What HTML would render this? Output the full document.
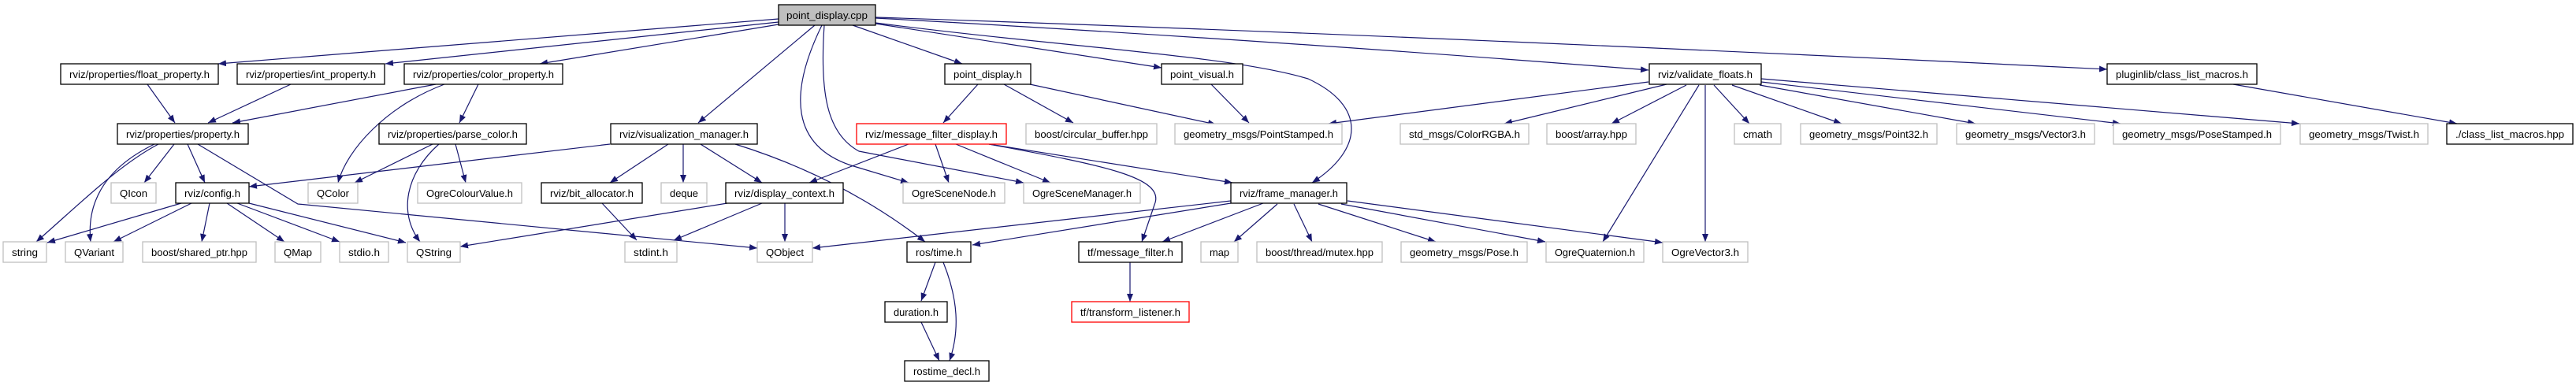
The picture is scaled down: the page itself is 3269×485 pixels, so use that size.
<!DOCTYPE html>
<html><head><meta charset="utf-8"><style>
html,body{margin:0;padding:0;background:#fff;}
svg{display:block;}
text{font-family:"Liberation Sans",sans-serif;font-size:13px;fill:#000;}
.b{fill:#fff;stroke:#000;stroke-width:1.3;}
.g{fill:#fff;stroke:#bfbfbf;stroke-width:1.3;}
.r{fill:#fff;stroke:#ff0000;stroke-width:1.3;}
.e{fill:none;stroke:#191970;stroke-width:1.2;marker-end:url(#a);}
</style></head><body>
<svg width="3269" height="485" viewBox="0 0 3269 485" xmlns="http://www.w3.org/2000/svg">
<defs><marker id="a" markerUnits="userSpaceOnUse" markerWidth="12" markerHeight="10" refX="10" refY="4" orient="auto"><path d="M0,0 L10,4 L0,8 z" fill="#191970"/></marker></defs>
<g>
<path class="e" d="M988,24 L277,81"/>
<path class="e" d="M988,28 L489,81"/>
<path class="e" d="M988,31 L685,81"/>
<path class="e" d="M1034,32 L886,156"/>
<path class="e" d="M1043,32 C1000,120 1005,185 1080,210 L1153,232"/>
<path class="e" d="M1046,32 C1040,120 1050,170 1090,192 L1299,232"/>
<path class="e" d="M1082,32 L1221,81"/>
<path class="e" d="M1111,30 L1474,86"/>
<path class="e" d="M1111,29 C1350,60 1560,70 1660,100 C1735,135 1730,190 1665,232"/>
<path class="e" d="M1111,23 Q1600,50 2092,89"/>
<path class="e" d="M1111,22 Q1800,45 2674,88"/>
<path class="e" d="M187,107 L222,156"/>
<path class="e" d="M369,107 L264,156"/>
<path class="e" d="M553,107 L295,156"/>
<path class="e" d="M564,107 C490,135 440,190 429,232"/>
<path class="e" d="M607,107 L583,156"/>
<path class="e" d="M201,183 C150,210 100,260 46,307"/>
<path class="e" d="M196,183 C130,215 110,260 115,307"/>
<path class="e" d="M221,183 L183,232"/>
<path class="e" d="M238,183 L260,232"/>
<path class="e" d="M251,183 L378,259 L961,315"/>
<path class="e" d="M549,183 L450,232"/>
<path class="e" d="M557,183 C515,220 505,270 533,307"/>
<path class="e" d="M578,183 L591,232"/>
<path class="e" d="M774,183 L316,237"/>
<path class="e" d="M848,183 L774,232"/>
<path class="e" d="M867,183 L867,232"/>
<path class="e" d="M889,183 L967,232"/>
<path class="e" d="M933,183 C1020,210 1100,250 1174,307"/>
<path class="e" d="M1153,183 L1027,232"/>
<path class="e" d="M1187,183 L1204,232"/>
<path class="e" d="M1213,183 L1333,232"/>
<path class="e" d="M1255,183 L1564,232"/>
<path class="e" d="M1255,183 C1400,210 1480,225 1465,260 L1449,307"/>
<path class="e" d="M1241,107 L1197,156"/>
<path class="e" d="M1274,107 L1362,156"/>
<path class="e" d="M1307,107 L1543,158"/>
<path class="e" d="M1537,107 L1585,156"/>
<path class="e" d="M2092,104 L1686,157"/>
<path class="e" d="M2115,107 L1909,157"/>
<path class="e" d="M2140,108 L2045,157"/>
<path class="e" d="M2156,108 L2034,307"/>
<path class="e" d="M2164,108 L2164,307"/>
<path class="e" d="M2175,108 L2220,157"/>
<path class="e" d="M2198,108 L2337,157"/>
<path class="e" d="M2233,108 L2507,157"/>
<path class="e" d="M2235,104 L2691,157"/>
<path class="e" d="M2235,100 L2918,157"/>
<path class="e" d="M2834,107 L3118,157"/>
<path class="e" d="M230,258 L60,308"/>
<path class="e" d="M243,258 L144,307"/>
<path class="e" d="M266,258 L256,307"/>
<path class="e" d="M288,258 L361,307"/>
<path class="e" d="M301,258 L431,307"/>
<path class="e" d="M316,258 L515,308"/>
<path class="e" d="M764,258 L808,305"/>
<path class="e" d="M923,258 L584,313"/>
<path class="e" d="M967,258 L855,305"/>
<path class="e" d="M996,258 L996,307"/>
<path class="e" d="M1562,255 L1031,315"/>
<path class="e" d="M1562,258 L1234,311"/>
<path class="e" d="M1603,258 L1475,307"/>
<path class="e" d="M1621,259 L1566,307"/>
<path class="e" d="M1642,259 L1665,307"/>
<path class="e" d="M1673,259 L1822,307"/>
<path class="e" d="M1702,259 L1961,307"/>
<path class="e" d="M1710,255 L2110,308"/>
<path class="e" d="M1187,333 L1169,382"/>
<path class="e" d="M1197,333 C1216,380 1218,420 1205,458"/>
<path class="e" d="M1169,409 L1192,458"/>
<path class="e" d="M1434,333 L1434,383"/>
</g>
<g>
<rect x="988" y="6" width="123" height="26" style="fill:#bfbfbf;stroke:#000;stroke-width:1.3"/><text x="1049.5" y="24" text-anchor="middle" textLength="103" lengthAdjust="spacingAndGlyphs">point_display.cpp</text>

<rect class="b" x="77" y="81" width="200" height="26"/><text x="177" y="99" text-anchor="middle" textLength="178" lengthAdjust="spacingAndGlyphs">rviz/properties/float_property.h</text>
<rect class="b" x="301" y="81" width="187" height="26"/><text x="394.5" y="99" text-anchor="middle" textLength="165" lengthAdjust="spacingAndGlyphs">rviz/properties/int_property.h</text>
<rect class="b" x="513" y="81" width="201" height="26"/><text x="613.5" y="99" text-anchor="middle" textLength="179" lengthAdjust="spacingAndGlyphs">rviz/properties/color_property.h</text>
<rect class="b" x="1199" y="81" width="109" height="26"/><text x="1253.5" y="99" text-anchor="middle" textLength="87" lengthAdjust="spacingAndGlyphs">point_display.h</text>
<rect class="b" x="1474" y="81" width="103" height="26"/><text x="1525.5" y="99" text-anchor="middle" textLength="81" lengthAdjust="spacingAndGlyphs">point_visual.h</text>
<rect class="b" x="2093" y="81" width="142" height="26"/><text x="2164" y="99" text-anchor="middle" textLength="120" lengthAdjust="spacingAndGlyphs">rviz/validate_floats.h</text>
<rect class="b" x="2674" y="81" width="190" height="26"/><text x="2769" y="99" text-anchor="middle" textLength="168" lengthAdjust="spacingAndGlyphs">pluginlib/class_list_macros.h</text>

<rect class="b" x="149" y="157" width="166" height="26"/><text x="232" y="175" text-anchor="middle" textLength="144" lengthAdjust="spacingAndGlyphs">rviz/properties/property.h</text>
<rect class="b" x="481" y="157" width="187" height="26"/><text x="574.5" y="175" text-anchor="middle" textLength="165" lengthAdjust="spacingAndGlyphs">rviz/properties/parse_color.h</text>
<rect class="b" x="775" y="157" width="186" height="26"/><text x="868" y="175" text-anchor="middle" textLength="164" lengthAdjust="spacingAndGlyphs">rviz/visualization_manager.h</text>
<rect class="r" x="1087" y="157" width="190" height="26"/><text x="1182" y="175" text-anchor="middle" textLength="168" lengthAdjust="spacingAndGlyphs">rviz/message_filter_display.h</text>
<rect class="g" x="1302" y="157" width="166" height="26"/><text x="1385" y="175" text-anchor="middle" textLength="144" lengthAdjust="spacingAndGlyphs">boost/circular_buffer.hpp</text>
<rect class="g" x="1491" y="157" width="212" height="26"/><text x="1597" y="175" text-anchor="middle" textLength="190" lengthAdjust="spacingAndGlyphs">geometry_msgs/PointStamped.h</text>
<rect class="g" x="1777" y="157" width="163" height="26"/><text x="1858.5" y="175" text-anchor="middle" textLength="141" lengthAdjust="spacingAndGlyphs">std_msgs/ColorRGBA.h</text>
<rect class="g" x="1963" y="157" width="113" height="26"/><text x="2019.5" y="175" text-anchor="middle" textLength="91" lengthAdjust="spacingAndGlyphs">boost/array.hpp</text>
<rect class="g" x="2201" y="157" width="59" height="26"/><text x="2230.5" y="175" text-anchor="middle" textLength="37" lengthAdjust="spacingAndGlyphs">cmath</text>
<rect class="g" x="2285" y="157" width="173" height="26"/><text x="2371.5" y="175" text-anchor="middle" textLength="151" lengthAdjust="spacingAndGlyphs">geometry_msgs/Point32.h</text>
<rect class="g" x="2483" y="157" width="175" height="26"/><text x="2570.5" y="175" text-anchor="middle" textLength="153" lengthAdjust="spacingAndGlyphs">geometry_msgs/Vector3.h</text>
<rect class="g" x="2682" y="157" width="212" height="26"/><text x="2788" y="175" text-anchor="middle" textLength="190" lengthAdjust="spacingAndGlyphs">geometry_msgs/PoseStamped.h</text>
<rect class="g" x="2919" y="157" width="162" height="26"/><text x="3000" y="175" text-anchor="middle" textLength="140" lengthAdjust="spacingAndGlyphs">geometry_msgs/Twist.h</text>
<rect class="b" x="3105" y="157" width="160" height="26"/><text x="3185" y="175" text-anchor="middle" textLength="138" lengthAdjust="spacingAndGlyphs">./class_list_macros.hpp</text>

<rect class="g" x="141" y="232" width="57" height="26"/><text x="169.5" y="250" text-anchor="middle" textLength="35" lengthAdjust="spacingAndGlyphs">QIcon</text>
<rect class="b" x="223" y="232" width="93" height="26"/><text x="269.5" y="250" text-anchor="middle" textLength="71" lengthAdjust="spacingAndGlyphs">rviz/config.h</text>
<rect class="g" x="391" y="232" width="63" height="26"/><text x="422.5" y="250" text-anchor="middle" textLength="41" lengthAdjust="spacingAndGlyphs">QColor</text>
<rect class="g" x="530" y="232" width="132" height="26"/><text x="596" y="250" text-anchor="middle" textLength="110" lengthAdjust="spacingAndGlyphs">OgreColourValue.h</text>
<rect class="b" x="687" y="232" width="128" height="26"/><text x="751" y="250" text-anchor="middle" textLength="106" lengthAdjust="spacingAndGlyphs">rviz/bit_allocator.h</text>
<rect class="g" x="839" y="232" width="58" height="26"/><text x="868" y="250" text-anchor="middle" textLength="36" lengthAdjust="spacingAndGlyphs">deque</text>
<rect class="b" x="921" y="232" width="149" height="26"/><text x="995.5" y="250" text-anchor="middle" textLength="127" lengthAdjust="spacingAndGlyphs">rviz/display_context.h</text>
<rect class="g" x="1146" y="232" width="129" height="26"/><text x="1210.5" y="250" text-anchor="middle" textLength="107" lengthAdjust="spacingAndGlyphs">OgreSceneNode.h</text>
<rect class="g" x="1299" y="232" width="148" height="26"/><text x="1373" y="250" text-anchor="middle" textLength="126" lengthAdjust="spacingAndGlyphs">OgreSceneManager.h</text>
<rect class="b" x="1562" y="232" width="147" height="26"/><text x="1635.5" y="250" text-anchor="middle" textLength="125" lengthAdjust="spacingAndGlyphs">rviz/frame_manager.h</text>

<rect class="g" x="4" y="307" width="55" height="26"/><text x="31.5" y="325" text-anchor="middle" textLength="33" lengthAdjust="spacingAndGlyphs">string</text>
<rect class="g" x="83" y="307" width="73" height="26"/><text x="119.5" y="325" text-anchor="middle" textLength="51" lengthAdjust="spacingAndGlyphs">QVariant</text>
<rect class="g" x="181" y="307" width="144" height="26"/><text x="253" y="325" text-anchor="middle" textLength="122" lengthAdjust="spacingAndGlyphs">boost/shared_ptr.hpp</text>
<rect class="g" x="349" y="307" width="58" height="26"/><text x="378" y="325" text-anchor="middle" textLength="36" lengthAdjust="spacingAndGlyphs">QMap</text>
<rect class="g" x="431" y="307" width="62" height="26"/><text x="462" y="325" text-anchor="middle" textLength="40" lengthAdjust="spacingAndGlyphs">stdio.h</text>
<rect class="g" x="517" y="307" width="67" height="26"/><text x="550.5" y="325" text-anchor="middle" textLength="45" lengthAdjust="spacingAndGlyphs">QString</text>
<rect class="g" x="793" y="307" width="66" height="26"/><text x="826" y="325" text-anchor="middle" textLength="44" lengthAdjust="spacingAndGlyphs">stdint.h</text>
<rect class="g" x="961" y="307" width="70" height="26"/><text x="996" y="325" text-anchor="middle" textLength="48" lengthAdjust="spacingAndGlyphs">QObject</text>
<rect class="b" x="1151" y="307" width="81" height="26"/><text x="1191.5" y="325" text-anchor="middle" textLength="59" lengthAdjust="spacingAndGlyphs">ros/time.h</text>
<rect class="b" x="1369" y="307" width="131" height="26"/><text x="1434.5" y="325" text-anchor="middle" textLength="109" lengthAdjust="spacingAndGlyphs">tf/message_filter.h</text>
<rect class="g" x="1524" y="307" width="47" height="26"/><text x="1547.5" y="325" text-anchor="middle" textLength="25" lengthAdjust="spacingAndGlyphs">map</text>
<rect class="g" x="1595" y="307" width="159" height="26"/><text x="1674.5" y="325" text-anchor="middle" textLength="137" lengthAdjust="spacingAndGlyphs">boost/thread/mutex.hpp</text>
<rect class="g" x="1778" y="307" width="160" height="26"/><text x="1858" y="325" text-anchor="middle" textLength="138" lengthAdjust="spacingAndGlyphs">geometry_msgs/Pose.h</text>
<rect class="g" x="1962" y="307" width="124" height="26"/><text x="2024" y="325" text-anchor="middle" textLength="102" lengthAdjust="spacingAndGlyphs">OgreQuaternion.h</text>
<rect class="g" x="2110" y="307" width="108" height="26"/><text x="2164" y="325" text-anchor="middle" textLength="86" lengthAdjust="spacingAndGlyphs">OgreVector3.h</text>

<rect class="b" x="1123" y="383" width="79" height="26"/><text x="1162.5" y="401" text-anchor="middle" textLength="57" lengthAdjust="spacingAndGlyphs">duration.h</text>
<rect class="r" x="1360" y="383" width="149" height="26"/><text x="1434.5" y="401" text-anchor="middle" textLength="127" lengthAdjust="spacingAndGlyphs">tf/transform_listener.h</text>

<rect class="b" x="1148" y="458" width="107" height="26"/><text x="1201.5" y="476" text-anchor="middle" textLength="85" lengthAdjust="spacingAndGlyphs">rostime_decl.h</text>
</g>
</svg>
</body></html>
